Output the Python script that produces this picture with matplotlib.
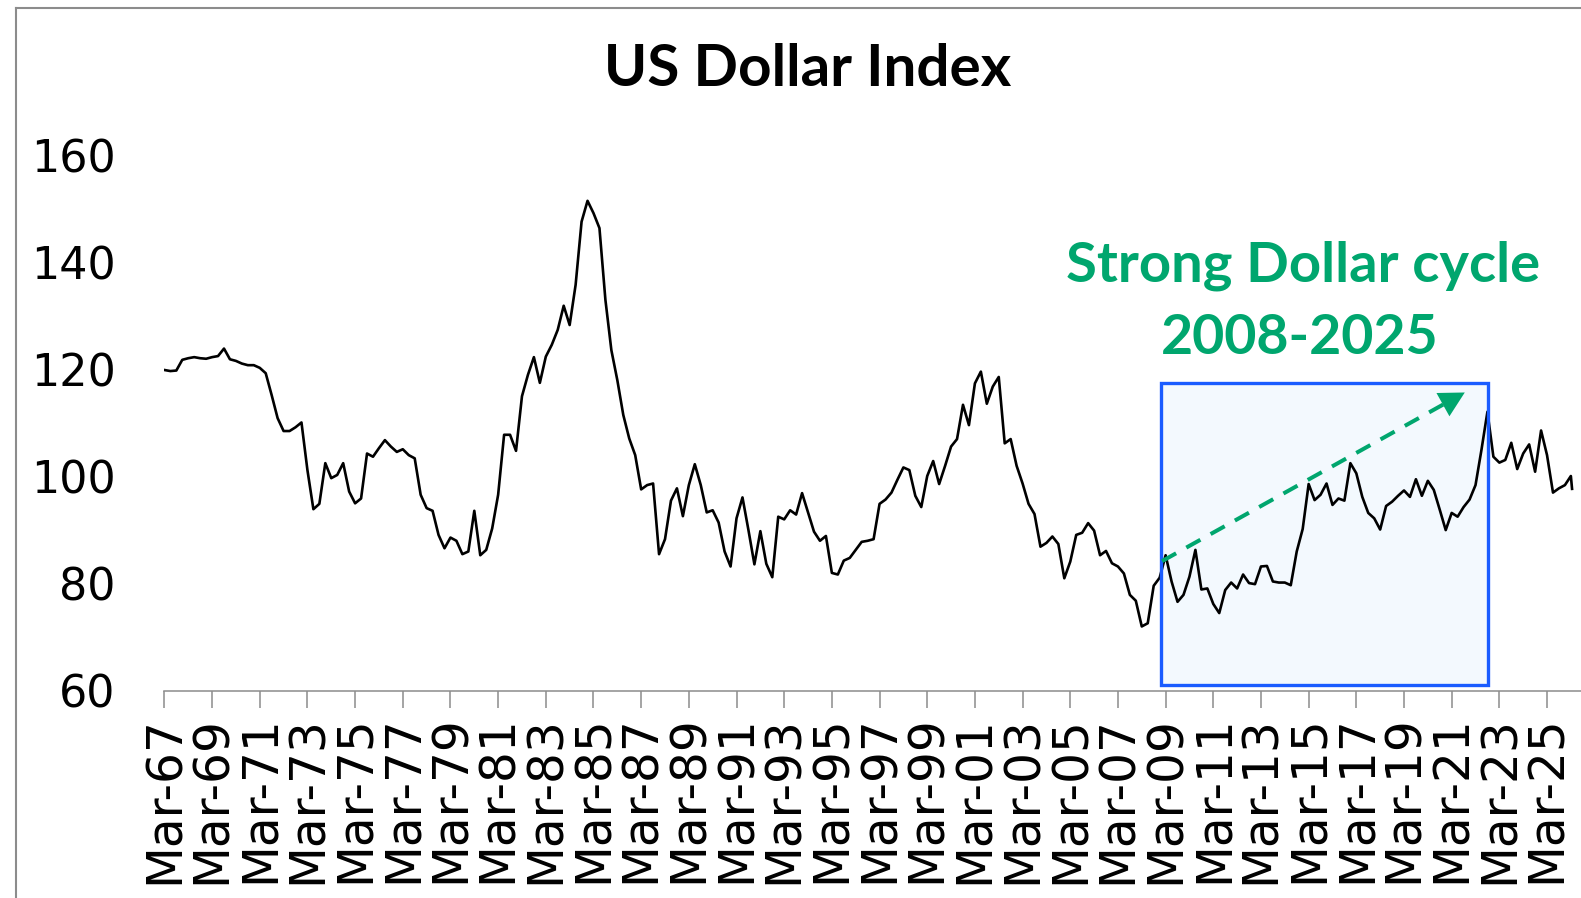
import numpy as np
import matplotlib
matplotlib.use("Agg")
import matplotlib.pyplot as plt
from matplotlib.patches import Rectangle
from matplotlib.lines import Line2D

# quarterly index readings, Mar-67 onwards
dxy_1967_1976 = [119.9, 119.7, 119.8, 121.8, 122.1, 122.3, 122.1, 122.0, 122.3, 122.5,
                 123.9, 121.9, 121.6, 121.1, 120.8, 120.8, 120.3, 119.3, 115.2, 110.9,
                 108.5, 108.5, 109.2, 110.1, 101.2, 93.9, 94.9, 102.5, 99.7, 100.3,
                 102.5, 97.2, 95.0, 95.9, 104.3, 103.7, 105.3, 106.8, 105.6, 104.6]
dxy_1977_1986 = [105.1, 104.0, 103.4, 96.6, 94.1, 93.6, 89.1, 86.6, 88.6, 88.0,
                 85.5, 86.0, 93.6, 85.3, 86.3, 90.3, 96.6, 107.8, 107.8, 104.8,
                 115.0, 119.0, 122.3, 117.5, 122.4, 124.6, 127.4, 131.9, 128.3, 135.8,
                 147.6, 151.5, 149.2, 146.4, 133.0, 123.6, 118.0, 111.5, 107.1, 104.0]
dxy_1987_1996 = [97.6, 98.4, 98.7, 85.5, 88.3, 95.5, 97.8, 92.6, 98.4, 102.3,
                 98.4, 93.3, 93.7, 91.4, 86.0, 83.2, 92.2, 96.1, 90.0, 83.6,
                 89.8, 83.7, 81.2, 92.5, 92.0, 93.7, 92.9, 96.9, 93.3, 89.7,
                 88.0, 88.9, 82.0, 81.7, 84.3, 84.8, 86.3, 87.8, 88.0, 88.3]
dxy_1997_2006 = [94.9, 95.7, 97.0, 99.4, 101.7, 101.2, 96.4, 94.3, 100.1, 102.9,
                 98.6, 102.0, 105.6, 107.0, 113.4, 109.6, 117.4, 119.6, 113.6, 116.8,
                 118.6, 106.2, 107.0, 102.0, 98.7, 94.9, 93.0, 86.9, 87.6, 88.8,
                 87.4, 81.0, 84.1, 89.1, 89.5, 91.3, 89.9, 85.3, 86.1, 83.8]
dxy_2007_2016 = [83.2, 81.9, 77.9, 76.8, 72.0, 72.6, 79.6, 81.1, 85.3, 80.4,
                 76.6, 77.9, 81.3, 86.3, 78.9, 79.1, 76.2, 74.5, 78.8, 80.2,
                 79.1, 81.7, 80.1, 79.9, 83.2, 83.3, 80.4, 80.2, 80.2, 79.7,
                 86.0, 90.2, 98.6, 95.6, 96.6, 98.7, 94.7, 95.9, 95.5, 102.5]
dxy_2017_2026 = [100.6, 96.2, 93.2, 92.2, 90.1, 94.5, 95.3, 96.4, 97.4, 96.2,
                 99.5, 96.4, 99.2, 97.5, 93.8, 90.0, 93.2, 92.5, 94.3, 95.7,
                 98.4, 105.0, 112.1, 103.7, 102.6, 103.1, 106.3, 101.4, 104.3, 106.0,
                 100.9, 108.6, 104.0, 97.0, 97.8, 98.4, 100.1]
# latest (partial-quarter) reading
last_pos = 236.2
last_val = 97.7

values = (dxy_1967_1976 + dxy_1977_1986 + dxy_1987_1996 + dxy_1997_2006
          + dxy_2007_2016 + dxy_2017_2026)
xpos = list(np.arange(len(values))) + [last_pos]
values = values + [last_val]

tick_years = list(range(67, 100, 2)) + list(range(1, 26, 2))
tick_labels = ["Mar-%02d" % y for y in tick_years]
tick_pos = [8 * i for i in range(len(tick_labels))]

# highlighted period and trend arrow (quarter index, index value)
box_x = (167.2, 222.1)
box_y = (61.0, 117.4)
arrow_start = (167.4, 84.2)
arrow_tip = (218.2, 115.7)

W, H = 1581, 898
fig = plt.figure(figsize=(W / 100, H / 100), dpi=100)
ax = fig.add_axes([164.4 / W, 1 - 690.7 / H, 1 - 164.4 / W, (690.7 - 155.3) / H])
ax.set_xlim(0, 237.7)
ax.set_ylim(60, 160)

green = "#00A66E"
blue = "#1A5CFF"

ax.add_patch(Rectangle((box_x[0], box_y[0]), box_x[1] - box_x[0], box_y[1] - box_y[0],
                       facecolor="#F3F9FE", edgecolor="none", zorder=1))
ax.plot(xpos, values, color="black", lw=1.9, zorder=2)
ax.add_patch(Rectangle((box_x[0], box_y[0]), box_x[1] - box_x[0], box_y[1] - box_y[0],
                       facecolor="none", edgecolor=blue, lw=2.4, zorder=3))

# dashed shaft + solid head
frac = 0.93
mid = (arrow_start[0] + frac * (arrow_tip[0] - arrow_start[0]),
       arrow_start[1] + frac * (arrow_tip[1] - arrow_start[1]))
ax.plot([arrow_start[0], mid[0]], [arrow_start[1], mid[1]], color=green, lw=2.9,
        linestyle=(0, (4.0, 2.9)), zorder=4)
ax.annotate("", xy=arrow_tip, xytext=mid,
            arrowprops=dict(arrowstyle="-|>,head_length=0.9,head_width=0.48",
                            color=green, lw=0, mutation_scale=20,
                            shrinkA=0, shrinkB=0), zorder=5)

for s in ["top", "right", "left"]:
    ax.spines[s].set_visible(False)
ax.spines["bottom"].set_color("#8c8c8c")
ax.spines["bottom"].set_linewidth(1.1)

ax.set_xticks(tick_pos)
ax.set_xticklabels(tick_labels, rotation=90, fontsize=35, family="DejaVu Sans")
ax.tick_params(axis="x", direction="out", length=12, width=1.1, color="#8c8c8c", pad=6)
ax.set_yticks([60, 80, 100, 120, 140, 160])
ax.set_yticklabels(["60", "80", "100", "120", "140", "160"], fontsize=32, family="DejaVu Sans")
ax.tick_params(axis="y", length=0, pad=35)

fig.text(808 / W, 1 - 70 / H, "US Dollar Index", ha="center", va="center",
         fontsize=42, fontweight="bold", family="Lato")
fig.text(1303 / W, 1 - 266 / H, "Strong Dollar cycle", ha="center", va="center",
         fontsize=40.5, fontweight="bold", family="Lato", color=green)
fig.text(1300 / W, 1 - 338 / H, "2008-2025", ha="center", va="center",
         fontsize=40, fontweight="bold", family="Lato", color=green)

# outer chart frame
fig.add_artist(Line2D([16 / W, 1], [1 - 8 / H, 1 - 8 / H], color="#8c8c8c", lw=1.5))
fig.add_artist(Line2D([16 / W, 16 / W], [0, 1 - 8 / H], color="#8c8c8c", lw=1.5))

fig.savefig("out.png", dpi=100)
